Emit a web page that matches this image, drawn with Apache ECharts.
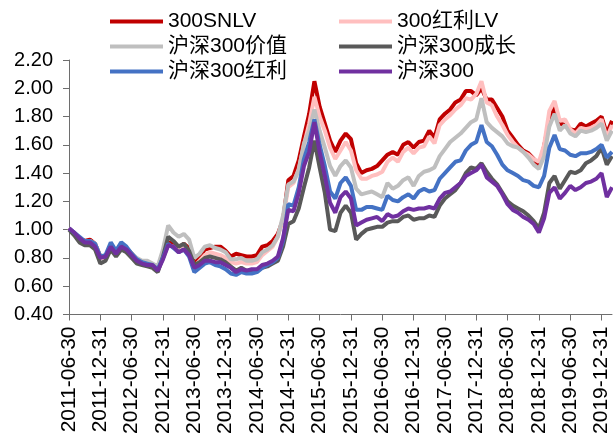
<!DOCTYPE html>
<html>
<head>
<meta charset="utf-8">
<script src="https://cdn.jsdelivr.net/npm/echarts@6/dist/echarts.min.js"></script>
<style>
  html, body { margin: 0; padding: 0; background: #ffffff; }
  #chart { width: 613px; height: 441px; }
</style>
</head>
<body>
<div id="chart"></div>
<script>
// Month-end dates, 2011-06 .. 2020-02
const dates = [
  '2011-06-30','2011-07-31','2011-08-31','2011-09-30','2011-10-31','2011-11-30','2011-12-31',
  '2012-01-31','2012-02-29','2012-03-31','2012-04-30','2012-05-31','2012-06-30','2012-07-31','2012-08-31','2012-09-30','2012-10-31','2012-11-30','2012-12-31',
  '2013-01-31','2013-02-28','2013-03-31','2013-04-30','2013-05-31','2013-06-30','2013-07-31','2013-08-31','2013-09-30','2013-10-31','2013-11-30','2013-12-31',
  '2014-01-31','2014-02-28','2014-03-31','2014-04-30','2014-05-31','2014-06-30','2014-07-31','2014-08-31','2014-09-30','2014-10-31','2014-11-30','2014-12-31',
  '2015-01-31','2015-02-28','2015-03-31','2015-04-30','2015-05-31','2015-06-30','2015-07-31','2015-08-31','2015-09-30','2015-10-31','2015-11-30','2015-12-31',
  '2016-01-31','2016-02-29','2016-03-31','2016-04-30','2016-05-31','2016-06-30','2016-07-31','2016-08-31','2016-09-30','2016-10-31','2016-11-30','2016-12-31',
  '2017-01-31','2017-02-28','2017-03-31','2017-04-30','2017-05-31','2017-06-30','2017-07-31','2017-08-31','2017-09-30','2017-10-31','2017-11-30','2017-12-31',
  '2018-01-31','2018-02-28','2018-03-31','2018-04-30','2018-05-31','2018-06-30','2018-07-31','2018-08-31','2018-09-30','2018-10-31','2018-11-30','2018-12-31',
  '2019-01-31','2019-02-28','2019-03-31','2019-04-30','2019-05-31','2019-06-30','2019-07-31','2019-08-31','2019-09-30','2019-10-31','2019-11-30','2019-12-31',
  '2020-01-31','2020-02-29'
];

// Net value series (normalised to 1.00 at 2011-06-30)
const snlv = [
  1.01,0.97,0.94,0.92,0.93,0.90, 0.81,0.81,0.89,0.84,0.89,0.87, 0.83,0.79,0.77,0.76,0.75,0.72,
  0.81,0.91,0.90,0.87,0.90,0.87, 0.76,0.80,0.86,0.87,0.88,0.88, 0.85,0.81,0.83,0.82,0.81,0.81,
  0.82,0.88,0.89,0.92,0.97,1.07, 1.35,1.38,1.49,1.66,1.82,2.05, 1.87,1.75,1.63,1.55,1.63,1.68,
  1.64,1.47,1.40,1.42,1.43,1.45, 1.49,1.53,1.55,1.53,1.60,1.62, 1.58,1.62,1.63,1.70,1.65,1.78,
  1.82,1.85,1.90,1.92,1.98,1.98, 1.95,2.00,1.92,1.92,1.86,1.80, 1.70,1.65,1.60,1.56,1.54,1.50,
  1.45,1.59,1.78,1.87,1.75,1.74, 1.71,1.70,1.75,1.73,1.75,1.77, 1.80,1.68,1.77
];
const divLv = [
  1.01,0.97,0.93,0.91,0.92,0.90, 0.80,0.80,0.89,0.84,0.89,0.86, 0.82,0.78,0.76,0.75,0.74,0.71,
  0.80,0.89,0.88,0.85,0.88,0.84, 0.74,0.78,0.82,0.84,0.83,0.82, 0.80,0.77,0.76,0.77,0.76,0.76,
  0.77,0.82,0.85,0.88,0.95,1.08, 1.30,1.33,1.43,1.60,1.75,1.94, 1.80,1.70,1.58,1.50,1.56,1.62,
  1.56,1.42,1.36,1.36,1.38,1.39, 1.41,1.48,1.51,1.48,1.55,1.58, 1.54,1.58,1.59,1.66,1.61,1.74,
  1.78,1.81,1.85,1.88,1.93,1.92, 1.96,2.05,1.90,1.88,1.80,1.74, 1.67,1.62,1.58,1.55,1.53,1.50,
  1.48,1.60,1.84,1.91,1.77,1.78, 1.71,1.68,1.72,1.71,1.72,1.74, 1.78,1.65,1.74
];
const value300 = [
  1.01,0.97,0.93,0.91,0.92,0.90, 0.81,0.81,0.89,0.85,0.89,0.87, 0.83,0.80,0.78,0.78,0.76,0.74,
  0.86,1.03,0.98,0.95,0.97,0.93, 0.80,0.83,0.88,0.89,0.87,0.86, 0.84,0.79,0.79,0.80,0.78,0.78,
  0.79,0.84,0.86,0.89,0.95,1.10, 1.32,1.34,1.42,1.61,1.70,1.85, 1.70,1.58,1.45,1.38,1.45,1.49,
  1.44,1.29,1.25,1.26,1.27,1.25, 1.23,1.33,1.29,1.31,1.35,1.37, 1.31,1.38,1.41,1.42,1.44,1.52,
  1.57,1.62,1.65,1.68,1.72,1.76, 1.78,1.93,1.76,1.72,1.69,1.66, 1.61,1.59,1.58,1.55,1.51,1.46,
  1.43,1.52,1.73,1.82,1.70,1.74, 1.68,1.66,1.70,1.69,1.70,1.72, 1.75,1.63,1.70
];
const growth300 = [
  1.00,0.96,0.91,0.89,0.89,0.86, 0.76,0.78,0.86,0.81,0.86,0.84, 0.80,0.76,0.75,0.74,0.73,0.70,
  0.81,0.95,0.92,0.88,0.90,0.85, 0.75,0.77,0.80,0.81,0.80,0.79, 0.77,0.74,0.71,0.73,0.71,0.71,
  0.71,0.73,0.74,0.76,0.78,0.88, 1.04,1.06,1.15,1.30,1.44,1.63, 1.44,1.26,1.00,0.99,1.12,1.17,
  1.12,0.93,0.97,1.00,1.01,1.02, 1.02,1.05,1.06,1.06,1.09,1.10, 1.07,1.08,1.08,1.10,1.09,1.17,
  1.22,1.25,1.28,1.33,1.40,1.44, 1.43,1.47,1.41,1.36,1.32,1.26, 1.20,1.17,1.15,1.13,1.10,1.06,
  1.01,1.12,1.33,1.38,1.29,1.35, 1.41,1.40,1.42,1.47,1.49,1.52, 1.58,1.46,1.52
];
const dividend300 = [
  1.01,0.98,0.95,0.92,0.92,0.90, 0.81,0.82,0.91,0.85,0.91,0.88, 0.83,0.79,0.77,0.76,0.75,0.72,
  0.80,0.90,0.87,0.84,0.86,0.81, 0.70,0.73,0.76,0.77,0.75,0.74, 0.72,0.69,0.68,0.70,0.69,0.69,
  0.70,0.73,0.75,0.77,0.80,0.92, 1.18,1.17,1.30,1.50,1.62,1.78, 1.60,1.45,1.27,1.22,1.33,1.37,
  1.31,1.14,1.14,1.16,1.16,1.15, 1.14,1.24,1.21,1.20,1.23,1.25, 1.22,1.27,1.29,1.27,1.28,1.36,
  1.40,1.44,1.48,1.49,1.56,1.60, 1.62,1.74,1.62,1.59,1.53,1.46, 1.42,1.40,1.38,1.35,1.34,1.31,
  1.30,1.38,1.58,1.67,1.57,1.56, 1.53,1.52,1.54,1.54,1.55,1.57, 1.60,1.51,1.55
];
const hs300 = [
  1.01,0.98,0.94,0.91,0.91,0.88, 0.80,0.81,0.88,0.83,0.88,0.86, 0.82,0.78,0.76,0.75,0.75,0.71,
  0.79,0.89,0.88,0.84,0.86,0.82, 0.73,0.75,0.78,0.78,0.77,0.77, 0.75,0.73,0.70,0.72,0.71,0.72,
  0.72,0.75,0.76,0.78,0.81,0.94, 1.14,1.13,1.26,1.45,1.55,1.76, 1.55,1.38,1.19,1.12,1.23,1.27,
  1.22,1.03,1.05,1.07,1.08,1.09, 1.06,1.11,1.09,1.10,1.13,1.15, 1.14,1.15,1.15,1.16,1.15,1.22,
  1.26,1.27,1.30,1.33,1.38,1.40, 1.42,1.46,1.37,1.34,1.31,1.25, 1.18,1.14,1.12,1.09,1.07,1.04,
  0.98,1.08,1.26,1.30,1.22,1.26, 1.31,1.28,1.30,1.33,1.34,1.36, 1.40,1.23,1.30
];

// Series names and colours, in drawing order
const names = ['300SNLV', '300红利LV', '沪深300价值', '沪深300成长', '沪深300红利', '沪深300'];
const colors = ['#C00000', '#FFBFBF', '#BFBFBF', '#595959', '#4472C4', '#7030A0'];
const values = [snlv, divLv, value300, growth300, dividend300, hs300];

// Y-axis range
const yMin = 0.4, yMax = 2.2, yStep = 0.2;

const FONT = "'Liberation Sans', Arial, 'Noto Sans CJK SC', sans-serif";
const AXIS_COLOR = '#6e6e6e';

const chart = echarts.init(document.getElementById('chart'), null, { renderer: 'canvas' });

const legendBase = {
  orient: 'vertical',
  top: 6,
  icon: 'rect',
  itemWidth: 53,
  itemHeight: 4,
  itemGap: 4,
  selectedMode: false,
  textStyle: { fontFamily: FONT, fontSize: 21, lineHeight: 21, color: '#000' }
};

chart.setOption({
  animation: false,
  backgroundColor: '#ffffff',
  legend: [
    Object.assign({}, legendBase, { left: 105, data: [names[0], names[2], names[4]] }),
    Object.assign({}, legendBase, { left: 334, data: [names[1], names[3], names[5]] })
  ],
  grid: { left: 69, right: 1, top: 60, bottom: 126.5, containLabel: false },
  xAxis: {
    type: 'category',
    data: dates,
    boundaryGap: false,
    axisLine: { lineStyle: { color: AXIS_COLOR, width: 1 } },
    axisTick: { interval: 5, length: 6, inside: false, lineStyle: { color: AXIS_COLOR } },
    axisLabel: {
      interval: 5,
      rotate: 90,
      margin: 12,
      fontFamily: FONT,
      fontSize: 21,
      color: '#000'
    },
    splitLine: { show: false }
  },
  yAxis: {
    type: 'value',
    min: yMin,
    max: yMax,
    interval: yStep,
    axisLine: { show: true, lineStyle: { color: AXIS_COLOR, width: 1 } },
    axisTick: { show: true, length: 6, lineStyle: { color: AXIS_COLOR } },
    axisLabel: {
      margin: 16,
      fontFamily: FONT,
      fontSize: 20,
      color: '#000',
      formatter: v => v.toFixed(2)
    },
    splitLine: { show: false }
  },
  series: names.map((n, k) => ({
    name: n,
    type: 'line',
    data: values[k],
    showSymbol: false,
    symbol: 'none',
    smooth: false,
    color: colors[k],
    lineStyle: { color: colors[k], width: 4 },
    z: 2 + k
  }))
});
</script>
</body>
</html>
